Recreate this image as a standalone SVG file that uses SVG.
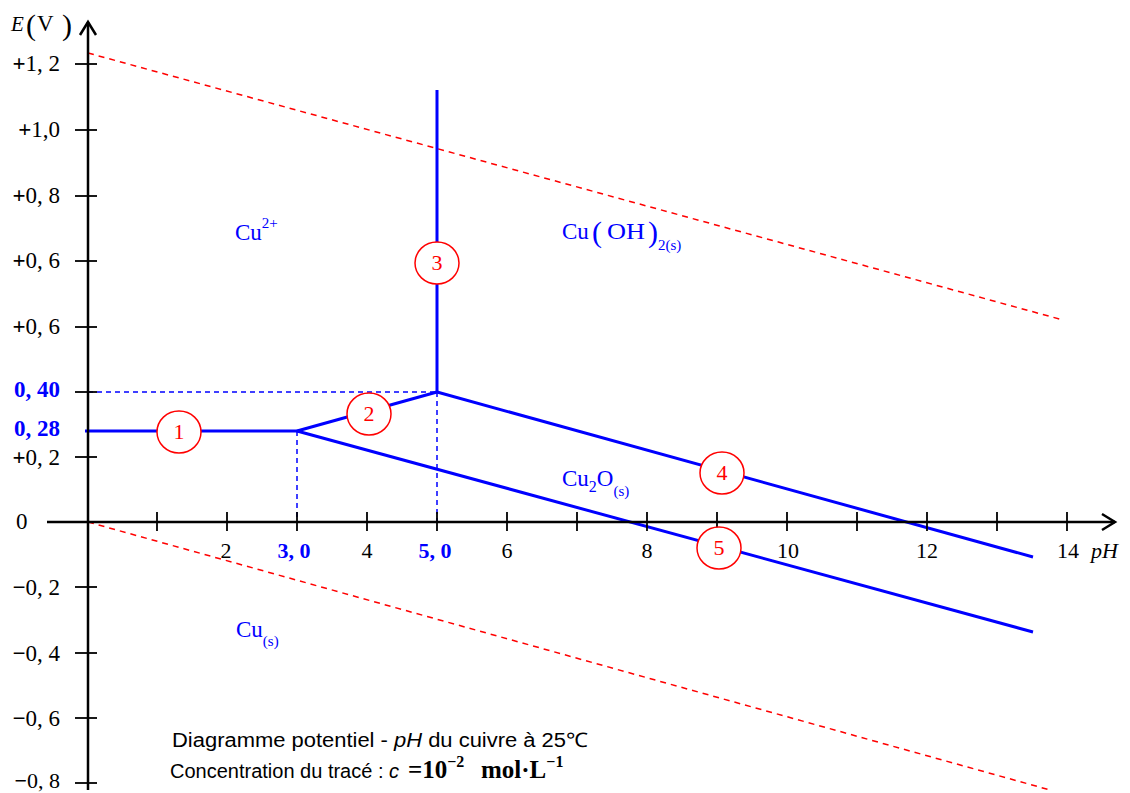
<svg xmlns="http://www.w3.org/2000/svg" width="1130" height="793" viewBox="0 0 1130 793">
<style>
.ax{stroke:#000;stroke-width:2.5;fill:none}
.tk{stroke:#000;stroke-width:1.8}
.bl{stroke:#0000ff;stroke-width:3;fill:none;stroke-linejoin:round}
.bd{stroke:#0000ff;stroke-width:1.5;stroke-dasharray:5 4}
.rd{stroke:#ff0000;stroke-width:1.5;stroke-dasharray:6 5}
.num{fill:#fff;stroke:#ff0000;stroke-width:1.5}
.nt{font-family:"Liberation Serif",serif;font-size:22px;fill:#ff0000;text-anchor:middle}
.lab{font-family:"Liberation Serif",serif;font-size:23px;fill:#000}
.ylab{text-anchor:end}
.xlab{text-anchor:middle;font-size:22px}
.blab{fill:#0000ff;font-weight:bold}
.reg{font-family:"Liberation Serif",serif;font-size:23px;fill:#0000ff}
.cap{font-family:"Liberation Sans",Arial,sans-serif;font-size:20px;fill:#000}
.tb{font-family:"Liberation Serif",serif;font-weight:bold}
.sgn{font-weight:bold}
</style>
<rect width="1130" height="793" fill="#fff"/>

<g id="connectors">
  <line class="rd" x1="88" y1="53" x2="1063" y2="320"/>
  <line class="rd" x1="88" y1="522" x2="1050" y2="790"/>
  <line class="bd" x1="88" y1="392" x2="437" y2="392"/>
  <line class="bd" x1="297" y1="431" x2="297" y2="522"/>
  <line class="bd" x1="437" y1="392" x2="437" y2="522"/>
  <line class="bl" x1="85" y1="431" x2="297" y2="431"/>
  <line class="bl" x1="297" y1="431" x2="437" y2="392"/>
  <line class="bl" x1="437" y1="392" x2="437" y2="90"/>
  <line class="bl" x1="437" y1="392" x2="1033" y2="557"/>
  <line class="bl" x1="297" y1="431" x2="1033" y2="632"/>
</g>

<g id="axes">
  <line class="ax" x1="47" y1="522" x2="1115" y2="522"/>
  <polyline class="ax" points="1102,514 1115,522 1102,530"/>
  <line class="ax" x1="88" y1="790" x2="88" y2="22"/>
  <polyline class="ax" points="80,35 88,22 96,35"/>
  <g id="yticks">
    <line class="tk" x1="75" y1="64" x2="97" y2="64"/>
    <line class="tk" x1="75" y1="130" x2="97" y2="130"/>
    <line class="tk" x1="75" y1="196" x2="97" y2="196"/>
    <line class="tk" x1="75" y1="261" x2="97" y2="261"/>
    <line class="tk" x1="75" y1="327" x2="97" y2="327"/>
    <line class="tk" x1="75" y1="392" x2="97" y2="392"/>
    <line class="tk" x1="75" y1="457" x2="97" y2="457"/>
    <line class="tk" x1="75" y1="587" x2="97" y2="587"/>
    <line class="tk" x1="75" y1="653" x2="97" y2="653"/>
    <line class="tk" x1="75" y1="718" x2="97" y2="718"/>
    <line class="tk" x1="75" y1="783" x2="97" y2="783"/>
  </g>
  <g id="xticks">
    <line class="tk" x1="157" y1="512" x2="157" y2="531"/>
    <line class="tk" x1="227" y1="512" x2="227" y2="531"/>
    <line class="tk" x1="297" y1="512" x2="297" y2="531"/>
    <line class="tk" x1="367" y1="512" x2="367" y2="531"/>
    <line class="tk" x1="437" y1="512" x2="437" y2="531"/>
    <line class="tk" x1="507" y1="512" x2="507" y2="531"/>
    <line class="tk" x1="577" y1="512" x2="577" y2="531"/>
    <line class="tk" x1="647" y1="512" x2="647" y2="531"/>
    <line class="tk" x1="717" y1="512" x2="717" y2="531"/>
    <line class="tk" x1="787" y1="512" x2="787" y2="531"/>
    <line class="tk" x1="857" y1="512" x2="857" y2="531"/>
    <line class="tk" x1="927" y1="512" x2="927" y2="531"/>
    <line class="tk" x1="997" y1="512" x2="997" y2="531"/>
    <line class="tk" x1="1067" y1="512" x2="1067" y2="531"/>
  </g>
  <g id="ylabels" class="lab">
    <text class="ylab" x="60" y="71"><tspan class="sgn">+</tspan>1, 2</text>
    <text class="ylab" x="60" y="137"><tspan class="sgn">+</tspan>1,0</text>
    <text class="ylab" x="60" y="203"><tspan class="sgn">+</tspan>0, 8</text>
    <text class="ylab" x="60" y="268"><tspan class="sgn">+</tspan>0, 6</text>
    <text class="ylab" x="60" y="334"><tspan class="sgn">+</tspan>0, 6</text>
    <text class="ylab blab" x="60" y="397">0, 40</text>
    <text class="ylab blab" x="60" y="436">0, 28</text>
    <text class="ylab" x="60" y="465"><tspan class="sgn">+</tspan>0, 2</text>
    <text x="16" y="529">0</text>
    <text class="ylab" x="60" y="595"><tspan class="sgn">−</tspan>0, 2</text>
    <text class="ylab" x="60" y="661"><tspan class="sgn">−</tspan>0, 4</text>
    <text class="ylab" x="60" y="726"><tspan class="sgn">−</tspan>0, 6</text>
    <text class="ylab" x="60" y="788" font-size="22"><tspan class="sgn">−</tspan>0, 8</text>
  </g>
  <g id="xlabels" class="lab">
    <text class="xlab" x="226" y="558">2</text>
    <text class="xlab blab" x="294" y="558">3, 0</text>
    <text class="xlab" x="367" y="558">4</text>
    <text class="xlab blab" x="435" y="558">5, 0</text>
    <text class="xlab" x="507" y="558">6</text>
    <text class="xlab" x="647" y="558">8</text>
    <text class="xlab" x="788" y="558">10</text>
    <text class="xlab" x="927" y="558">12</text>
    <text class="xlab" x="1068" y="558">14</text>
    <text x="1091" y="558" font-style="italic" font-size="22">pH</text>
  </g>
  <g id="ytitle" class="lab">
    <text x="11" y="31" font-style="italic" font-size="21">E</text>
    <text x="26" y="35" font-size="30">(</text>
    <text x="37" y="31" font-size="23">V</text>
    <text x="62" y="35" font-size="30">)</text>
  </g>
</g>

<g id="region-cu2plus" class="reg">
  <text x="235" y="240">Cu<tspan font-size="15" dy="-12">2+</tspan></text>
</g>
<g id="region-cuoh2" class="reg">
  <text x="562" y="239">Cu</text>
  <text x="592" y="242" font-size="30">(</text>
  <text x="607" y="239" textLength="38" lengthAdjust="spacingAndGlyphs">OH</text>
  <text x="648" y="242" font-size="30">)</text>
  <text x="658" y="250" font-size="15">2(s)</text>
</g>
<g id="region-cu2o" class="reg">
  <text x="562" y="486">Cu<tspan font-size="16" dy="6">2</tspan><tspan dy="-6">O</tspan><tspan font-size="15" dy="10">(s)</tspan></text>
</g>
<g id="region-cu" class="reg">
  <text x="236" y="637">Cu<tspan font-size="15" dy="9">(s)</tspan></text>
</g>

<g id="n1"><ellipse class="num" cx="179" cy="432" rx="22" ry="21"/><text class="nt" x="179" y="439">1</text></g>
<g id="n2"><ellipse class="num" cx="369" cy="414" rx="22" ry="21"/><text class="nt" x="369" y="421">2</text></g>
<g id="n3"><ellipse class="num" cx="437" cy="263" rx="22" ry="21"/><text class="nt" x="437" y="270">3</text></g>
<g id="n4"><ellipse class="num" cx="722" cy="473" rx="22" ry="21"/><text class="nt" x="722" y="480">4</text></g>
<g id="n5"><ellipse class="num" cx="719" cy="548" rx="22" ry="21"/><text class="nt" x="719" y="555">5</text></g>

<g id="caption">
  <text class="cap" x="172" y="747" textLength="416" lengthAdjust="spacingAndGlyphs">Diagramme potentiel - <tspan font-style="italic">pH</tspan> du cuivre à 25℃</text>
  <text class="cap" x="170" y="778">Concentration du tracé : <tspan font-style="italic">c</tspan> <tspan class="tb" font-size="25" x="408">=10</tspan><tspan class="tb" font-size="16" dy="-11">−2</tspan><tspan class="tb" font-size="25" x="481" dy="11">mol·L</tspan><tspan class="tb" font-size="16" dy="-11">−1</tspan></text>
</g>
</svg>
